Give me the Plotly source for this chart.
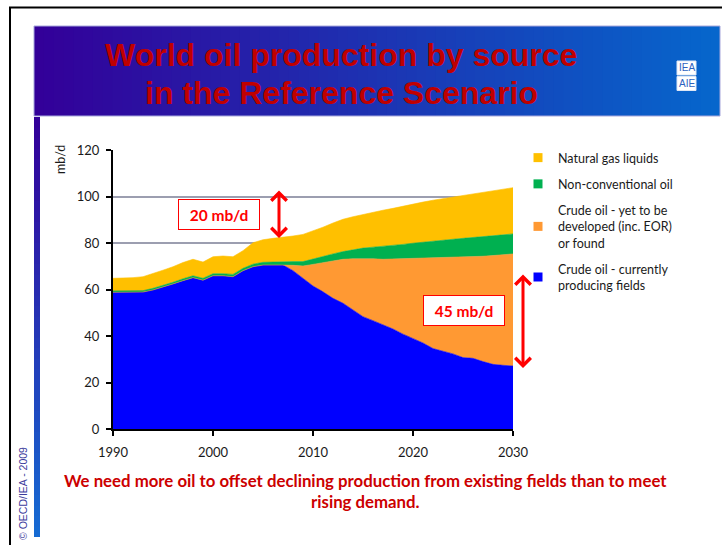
import plotly.graph_objects as go

# ---------------- data (mb/d) ----------------
years = list(range(1990, 2031))

crude_current = [58.8, 58.8, 58.8, 58.9, 59.8, 61.0, 62.4, 63.8, 65.1, 64.0,
                 65.9, 65.9, 65.5, 68.1, 69.8, 70.5, 70.6, 70.5, 68.1, 64.8,
                 61.5, 59.0, 56.2, 54.1, 51.2, 48.3, 46.6, 44.8, 43.0, 40.8,
                 39.0, 37.0, 34.6, 33.5, 32.3, 30.7, 30.4, 29.0, 27.8, 27.4,
                 27.1]
crude_yet = [0.0, 0.0, 0.0, 0.0, 0.0, 0.0, 0.0, 0.0, 0.0, 0.0,
             0.0, 0.0, 0.0, 0.0, 0.0, 0.0, 0.0, 0.0, 2.3, 5.3,
             9.3, 12.6, 16.1, 18.9, 22.0, 25.0, 26.6, 28.2, 30.1, 32.4,
             34.3, 36.5, 39.0, 40.2, 41.5, 43.1, 43.6, 45.3, 46.8, 47.5,
             48.2]
non_conventional = [0.6, 0.6, 0.6, 0.6, 0.7, 0.7, 0.7, 0.8, 0.8, 0.8,
                    0.9, 0.9, 1.0, 1.0, 1.1, 1.2, 1.3, 1.4, 1.6, 1.9,
                    2.4, 2.7, 3.0, 3.3, 3.9, 4.5, 5.0, 5.5, 5.8, 6.2,
                    6.6, 6.9, 7.2, 7.5, 7.8, 8.2, 8.3, 8.4, 8.5, 8.6,
                    8.6]
ngl = [5.4, 5.5, 5.7, 6.0, 6.3, 6.6, 6.7, 7.0, 7.1, 7.0,
       7.3, 7.6, 7.6, 7.6, 9.2, 9.7, 10.1, 10.5, 11.0, 11.7,
       12.0, 12.5, 13.3, 13.9, 14.2, 14.5, 15.1, 15.6, 16.0, 16.5,
       16.9, 17.2, 17.6, 17.9, 18.3, 18.6, 19.0, 19.2, 19.5, 19.7,
       19.9]

series_names = ["Crude oil - currently<br>producing fields",
                "Crude oil - yet to be<br>developed (inc. EOR)<br>or found",
                "Non-conventional oil",
                "Natural gas liquids"]
series_values = [crude_current, crude_yet, non_conventional, ngl]
series_colors = ["#0000FF", "#FF9933", "#00B050", "#FFC000"]

x_ticks = [1990, 2000, 2010, 2020, 2030]
y_ticks = [0, 20, 40, 60, 80, 100, 120]

title_lines = ["World oil production by source", "in the Reference Scenario"]
footer_lines = ["We need more oil to offset declining production from existing fields than to meet",
                "rising demand."]

# ---------------- geometry helpers ----------------
W, H = 722, 545
ML, MR, MT, MB = 113, 209, 150, 116
PW, PH = W - ML - MR, H - MT - MB


def px(x):
    return (x - ML) / PW


def py(y):
    return (H - MB - y) / PH


def lerp(c1, c2, t):
    return "rgb(%d,%d,%d)" % tuple(round(a + (b - a) * t) for a, b in zip(c1, c2))


fig = go.Figure()

# stacked areas
for name, vals, col in zip(series_names, series_values, series_colors):
    fig.add_trace(go.Scatter(
        x=years, y=vals, stackgroup="one", mode="lines",
        line=dict(width=0.6, color=col), fillcolor=col,
        name=name, showlegend=False, hoverinfo="skip"))

# legend entries (square swatches), top to bottom
for i in [3, 2, 1, 0]:
    fig.add_trace(go.Scatter(
        x=[None], y=[None], mode="markers",
        marker=dict(symbol="square", size=9, color=series_colors[i]),
        name=series_names[i], legendgroup="g%d" % i, showlegend=True))

shapes = []
# outer black frame (top and left)
shapes.append(dict(type="line", xref="paper", yref="paper",
                   x0=px(9), x1=px(722), y0=py(7.5), y1=py(7.5),
                   line=dict(color="black", width=2)))
shapes.append(dict(type="line", xref="paper", yref="paper",
                   x0=px(10), x1=px(10), y0=py(7), y1=py(545),
                   line=dict(color="black", width=2)))

# banner gradient
c_left, c_right = (0x33, 0x00, 0x99), (0x06, 0x66, 0xCC)
bx0, bx1, by0, by1 = 34, 720, 26, 116
N = 70
for k in range(N):
    xa = bx0 + (bx1 - bx0) * k / N
    xb = bx0 + (bx1 - bx0) * (k + 1) / N + 0.8
    shapes.append(dict(type="rect", xref="paper", yref="paper",
                       x0=px(xa), x1=px(min(xb, bx1)), y0=py(by1), y1=py(by0),
                       line=dict(width=0), fillcolor=lerp(c_left, c_right, k / (N - 1))))
shapes.append(dict(type="rect", xref="paper", yref="paper",
                   x0=px(bx0), x1=px(bx1), y0=py(by1), y1=py(by0),
                   line=dict(color="#A8A8DC", width=1), fillcolor="rgba(0,0,0,0)"))

# left vertical bar gradient
v_top, v_bot = (0x33, 0x00, 0x99), (0x16, 0x6A, 0xD2)
vy0, vy1 = 117, 537
M = 40
for k in range(M):
    ya = vy0 + (vy1 - vy0) * k / M
    yb = vy0 + (vy1 - vy0) * (k + 1) / M + 0.8
    shapes.append(dict(type="rect", xref="paper", yref="paper",
                       x0=px(34), x1=px(40), y0=py(min(yb, vy1)), y1=py(ya),
                       line=dict(width=0), fillcolor=lerp(v_top, v_bot, k / (M - 1))))

# logo boxes
for (ly0, ly1) in [(61, 75), (76.5, 90.5)]:
    shapes.append(dict(type="rect", xref="paper", yref="paper",
                       x0=px(677), x1=px(696), y0=py(ly1), y1=py(ly0),
                       line=dict(color="#DDE6F5", width=1), fillcolor="white"))

annotations = []
# title
for i, (txt, yc) in enumerate(zip(title_lines, [55, 93])):
    annotations.append(dict(
        text="<b>%s</b>" % txt, xref="paper", yref="paper",
        x=px(341), y=py(yc), xanchor="center", yanchor="middle", showarrow=False,
        font=dict(family="Liberation Sans, Arial", size=32, color="#C00000")))
# logo text
for txt, yc in [("IEA", 68), ("AIE", 83.5)]:
    annotations.append(dict(
        text=txt, xref="paper", yref="paper", x=px(686.5), y=py(yc),
        xanchor="center", yanchor="middle", showarrow=False,
        font=dict(family="Liberation Sans Narrow, Liberation Sans", size=10, color="#2B62C0")))
# copyright
annotations.append(dict(
    text="© OECD/IEA - 2009", xref="paper", yref="paper", x=px(23), y=py(494),
    xanchor="center", yanchor="middle", textangle=-90, showarrow=False,
    font=dict(family="Liberation Sans, Arial", size=10.5, color="#3C3C9C")))
# y axis title
annotations.append(dict(
    text="mb/d", xref="paper", yref="paper", x=px(60), y=py(160),
    xanchor="center", yanchor="middle", textangle=-90, showarrow=False,
    font=dict(family="Lato", size=12.5, color="#1a1a1a")))
# footer
for txt, yc in zip(footer_lines, [480, 501]):
    annotations.append(dict(
        text="<b>%s</b>" % txt, xref="paper", yref="paper", x=px(365), y=py(yc),
        xanchor="center", yanchor="middle", showarrow=False,
        font=dict(family="Lato", size=16.8, color="#CC0000")))
# value boxes
for txt, xc, yc in [("20 mb/d", 2000.6, 92.3), ("45 mb/d", 2025.1, 51.0)]:
    annotations.append(dict(
        text="<b>%s</b>" % txt, xref="x", yref="y", x=xc, y=yc,
        xanchor="center", yanchor="middle", showarrow=False,
        width=78, height=27, bgcolor="white", bordercolor="#FF0000", borderwidth=1,
        font=dict(family="Lato", size=15.5, color="#FF0000")))
# double arrows (pixel positions on the page)
for xa, ytop, ybot in [(279, 189, 238), (523, 273, 368)]:
    annotations.append(dict(
        text="", xref="paper", yref="paper",
        x=px(xa), y=py(ybot), ax=0, ay=-(ybot - ytop), showarrow=True,
        arrowside="end+start", arrowhead=4, startarrowhead=4,
        arrowsize=1, startarrowsize=1, arrowwidth=3, arrowcolor="#FF0000",
        standoff=0, startstandoff=0))

fig.update_layout(
    width=W, height=H, autosize=False,
    margin=dict(l=ML, r=MR, t=MT, b=MB, pad=0),
    paper_bgcolor="white", plot_bgcolor="white",
    shapes=shapes, annotations=annotations,
    showlegend=True,
    legend=dict(x=px(518), y=py(143), xanchor="left", yanchor="top",
                traceorder="grouped", tracegroupgap=7,
                font=dict(family="Lato", size=12.5, color="#1a1a1a"),
                bgcolor="rgba(0,0,0,0)", borderwidth=0),
    xaxis=dict(range=[1990, 2030], tickvals=x_ticks, ticks="outside", ticklen=5,
               tickwidth=1.5, tickcolor="black", showline=True, linecolor="black",
               linewidth=2, showgrid=False, zeroline=False, ticklabelstandoff=5,
               tickfont=dict(family="Lato", size=13, color="#1a1a1a")),
    yaxis=dict(range=[0, 120], tickvals=y_ticks, ticks="outside", ticklen=5,
               tickwidth=1.5, tickcolor="black", showline=True, linecolor="black",
               linewidth=2, showgrid=True, gridcolor="#9C9EB0", gridwidth=1.5,
               zeroline=False, ticklabelstandoff=4,
               tickfont=dict(family="Lato", size=13, color="#1a1a1a")),
)

fig.write_html("out.html")
